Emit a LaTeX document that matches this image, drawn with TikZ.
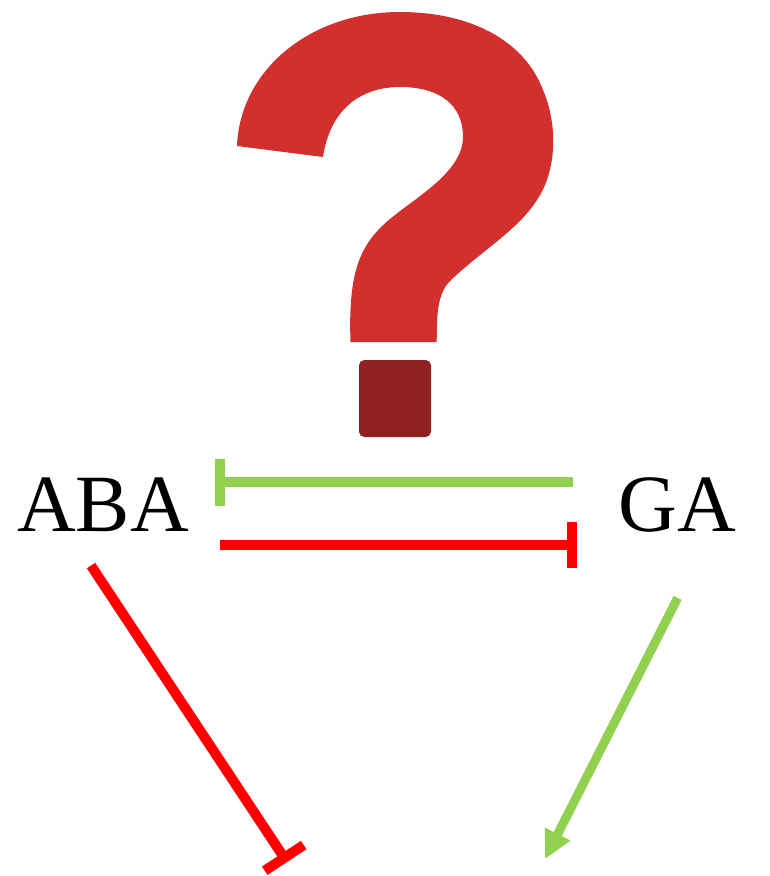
\documentclass[tikz,border=0pt]{standalone}
\usepackage{fontspec}
\setmainfont{Liberation Serif}
\usetikzlibrary{arrows.meta,positioning}

\definecolor{leafgreen}{HTML}{92D050}
\definecolor{markred}{HTML}{D32F2F}
\definecolor{dotred}{HTML}{912121}

\begin{document}
\begin{tikzpicture}[
            x=0.75pt, y=-0.75pt,
            hormone/.style={
                inner sep=0pt,
                font=\fontsize{61pt}{61pt}\selectfont
            },
            block/.style={-{Bar[width=35pt,length=6.75pt]}, line width=7.5pt},
            promote/.style={-{Triangle[width=20pt,length=21pt]}, line width=6.75pt, leafgreen}
        ]

            \useasboundingbox (0,0) rectangle (769,876);

            % question mark
            \fill[markred]
                (350.5,342) -- (436.7,342)
                .. controls (437,320) and (436,295) .. (450,281)
                .. controls (480,252) and (518,230) .. (537,200)
                .. controls (557,170) and (558,125) .. (543,90)
                .. controls (524,40) and (470,12) .. (400,12)
                .. controls (310,12) and (240,70) .. (237,146)
                -- (323,157)
                .. controls (330,110) and (360,87) .. (400,87)
                .. controls (440,87) and (463,105) .. (463,137)
                .. controls (463,170) and (420,195) .. (395,215)
                .. controls (360,242) and (348,270) .. (350.5,342)
                -- cycle;
            \fill[dotred, rounded corners=4pt]
                (359,360) rectangle (431,437);

            \node[hormone] (aba) at (103,505) {ABA};
            \node[hormone, right=431pt of aba.center, anchor=center] (ga) {GA};

            \coordinate (blocktip) at (287,862);
            \coordinate (growtip) at (545,859);

            \draw[block, leafgreen]
                ([yshift=17pt,xshift=-34.5pt]ga.west) -- ([yshift=17pt,xshift=19.5pt]aba.east);

            \draw[block, red]
                ([yshift=-30pt,xshift=23pt]aba.east) -- ([yshift=-30pt,xshift=-31.5pt]ga.west);

            \draw[block, red]
                ([xshift=-9pt,yshift=-25pt]aba.south) -- (blocktip);

            \draw[promote]
                ([yshift=-49pt]ga.south) -- (growtip);

        \end{tikzpicture}
\end{document}
